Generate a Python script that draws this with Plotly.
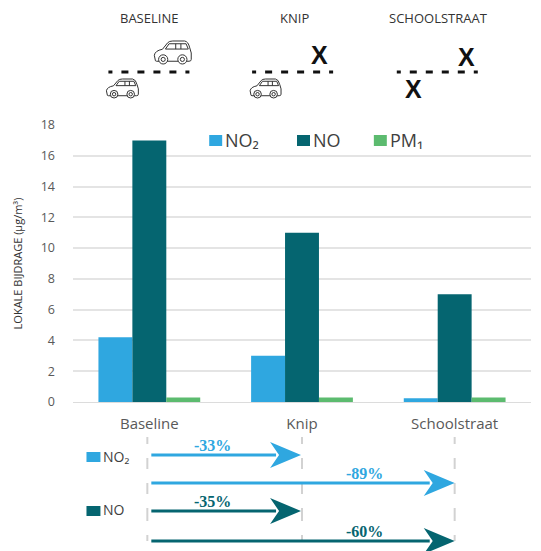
import plotly.graph_objects as go

categories = ["Baseline", "Knip", "Schoolstraat"]
no2 = [4.2, 3.0, 0.25]
no = [17, 11, 7]
pm1 = [0.3, 0.3, 0.3]
y_ticks = list(range(0, 19, 2))
scenario_titles = ["BASELINE", "KNIP", "SCHOOLSTRAAT"]
reductions = ["-33%", "-89%", "-35%", "-60%"]

C_NO2, C_NO, C_PM = "#2FA7E0", "#056570", "#5CBB6F"
W, H = 541, 551
L, R, T, B = 72.5, 531.5, 125, 402
GREY = "#595959"
SANS = "Open Sans"


def px(x):
    return (x - L) / (R - L)


def py(y):
    return (B - y) / (B - T)


shapes, annos = [], []


def path(cmds):
    out = []
    for c in cmds:
        if c == "Z":
            out.append("Z")
        else:
            letter, *pts = c
            s = " ".join(f"{px(pts[i]):.5f},{py(pts[i + 1]):.5f}" for i in range(0, len(pts), 2))
            out.append(f"{letter} {s}")
    return " ".join(out)


def add_shape(cmds, fill=None, line=None, width=1, dash=None):
    shapes.append(dict(type="path", xref="paper", yref="paper", path=path(cmds),
                       fillcolor=fill or "rgba(0,0,0,0)",
                       line=dict(color=line or "rgba(0,0,0,0)", width=width if line else 0, dash=dash)))


def text(x, y, s, size=12, color=GREY, family=SANS, anchor="center", bold=False, angle=0):
    annos.append(dict(xref="paper", yref="paper", x=px(x), y=py(y), text=f"<b>{s}</b>" if bold else s,
                      showarrow=False, xanchor=anchor, yanchor="middle", textangle=angle,
                      font=dict(size=size, color=color, family=family)))


def rect(x0, y0, x1, y1, color):
    shapes.append(dict(type="rect", xref="paper", yref="paper", x0=px(x0), x1=px(x1),
                       y0=py(y1), y1=py(y0), fillcolor=color, line=dict(width=0)))


def circle(cx, cy, r, color="#333333", width=1, fill="white"):
    shapes.append(dict(type="circle", xref="paper", yref="paper", x0=px(cx - r), x1=px(cx + r),
                       y0=py(cy + r), y1=py(cy - r), fillcolor=fill, line=dict(color=color, width=width)))


def car(x0, y0, w, h, lw=1, color="#333333"):
    def P(u, v):
        return x0 + u * w, y0 + v * h
    body = [("M", *P(0.03, 0.86)), ("L", *P(0.0, 0.62)), ("Q", *P(0.02, 0.42), *P(0.22, 0.36)),
            ("L", *P(0.36, 0.08)), ("Q", *P(0.40, 0.0), *P(0.50, 0.0)), ("L", *P(0.82, 0.0)),
            ("Q", *P(0.92, 0.02), *P(0.96, 0.30)), ("L", *P(1.0, 0.52)), ("L", *P(1.0, 0.80)),
            ("Q", *P(1.0, 0.88), *P(0.94, 0.88)), ("L", *P(0.06, 0.88)), "Z"]
    add_shape(body, fill="white", line=color, width=lw)
    add_shape([("M", *P(0.30, 0.35)), ("L", *P(0.40, 0.12)), ("L", *P(0.86, 0.12)),
               ("L", *P(0.92, 0.35)), "Z"], line=color, width=lw)
    add_shape([("M", *P(0.58, 0.12)), ("L", *P(0.58, 0.35)), ("M", *P(0.72, 0.12)), ("L", *P(0.72, 0.35))],
              line=color, width=lw)
    r = h * 0.20
    for u in (0.24, 0.76):
        cx, cy = P(u, 0.80)
        circle(cx, cy, r, width=lw, color=color)
        circle(cx, cy, r * 0.45, width=lw, color=color)


def arrow(x0, x1, y, color, head=31):
    add_shape([("M", x0, y), ("L", x1 - head + 6, y)], line=color, width=3)
    add_shape([("M", x1, y), ("L", x1 - head, y - 13), ("L", x1 - head + 9, y),
               ("L", x1 - head, y + 13), "Z"], fill=color)


# top schematic
for cx, label in zip((149, 294, 439), scenario_titles):
    text(cx, 18, label, size=13, color="#333333")
for x0 in (108, 252, 397):
    add_shape([("M", x0, 72), ("L", x0 + 82, 72)], line="#111111", width=3,
              dash="4px,9px,7px,9px,7px,9px,7px,9px,7px,9px,4px")
car(154, 41, 37, 23)
car(106, 79, 32, 19)
car(250, 79, 31, 19)
for x, y in ((320, 55), (467, 57), (414, 89)):
    text(x, y, "X", size=25, color="#111111", family="Liberation Sans", bold=True)

# manual chart legend
for x, c, s in ((209, C_NO2, "NO₂"), (297, C_NO, "NO"), (374, C_PM, "PM₁")):
    rect(x, 135, x + 13, 146, c)
    text(x + 14, 140, s, size=18, color="#404040", anchor="left")

# bottom schematic
for x in (147, 302, 455):
    add_shape([("M", x, 437), ("L", x, 545)], line="#d2d2d2", width=2, dash="7px,14px,11px,14px,11px,14px,13px,14px,6px")
arrow(151, 301, 455, C_NO2)
arrow(151, 455, 483, C_NO2)
arrow(151, 301, 511, C_NO)
arrow(151, 455, 541, C_NO)
for (x, y, c), s in zip(((212, 445, C_NO2), (365, 473, C_NO2), (212, 501, C_NO), (365, 531, C_NO)), reductions):
    text(x, y, s, size=16, color=c, family="Liberation Serif", bold=True)
rect(86, 452, 100, 462, C_NO2)
text(100.5, 456, "NO₂", size=14, color="#404040", anchor="left")
rect(86, 506, 100, 516, C_NO)
text(100.5, 509, "NO", size=14, color="#404040", anchor="left")

fig = go.Figure()
for name, vals, c in (("NO₂", no2, C_NO2), ("NO", no, C_NO), ("PM₁", pm1, C_PM)):
    fig.add_bar(x=categories, y=vals, name=name, marker=dict(color=c, line=dict(width=0)))

fig.update_layout(
    width=W, height=H, autosize=False,
    margin=dict(l=L, r=W - R, t=T, b=H - B, pad=0),
    paper_bgcolor="white", plot_bgcolor="white",
    barmode="group", bargap=1 / 3, bargroupgap=0, showlegend=False,
    shapes=shapes, annotations=annos,
    font=dict(family=SANS, color=GREY),
    xaxis=dict(showgrid=False, showline=True, linecolor="#dcdcdc", linewidth=1, ticks="",
               tickfont=dict(size=15, color=GREY), ticklabelstandoff=8),
    yaxis=dict(range=[0, 18], tickvals=y_ticks, showgrid=True, gridcolor="#e4e4e4", gridwidth=1.5,
               zeroline=False, showline=False, ticks="", tickfont=dict(size=12.5, color=GREY),
               ticklabelstandoff=17,
               title=dict(text="LOKALE BIJDRAGE (µg/m³)", font=dict(size=11, color="#333333"), standoff=15)),
)
fig.write_html("out.html", config=dict(displayModeBar=False),
               post_script="document.body.style.margin='0';document.documentElement.style.overflow='hidden';")
